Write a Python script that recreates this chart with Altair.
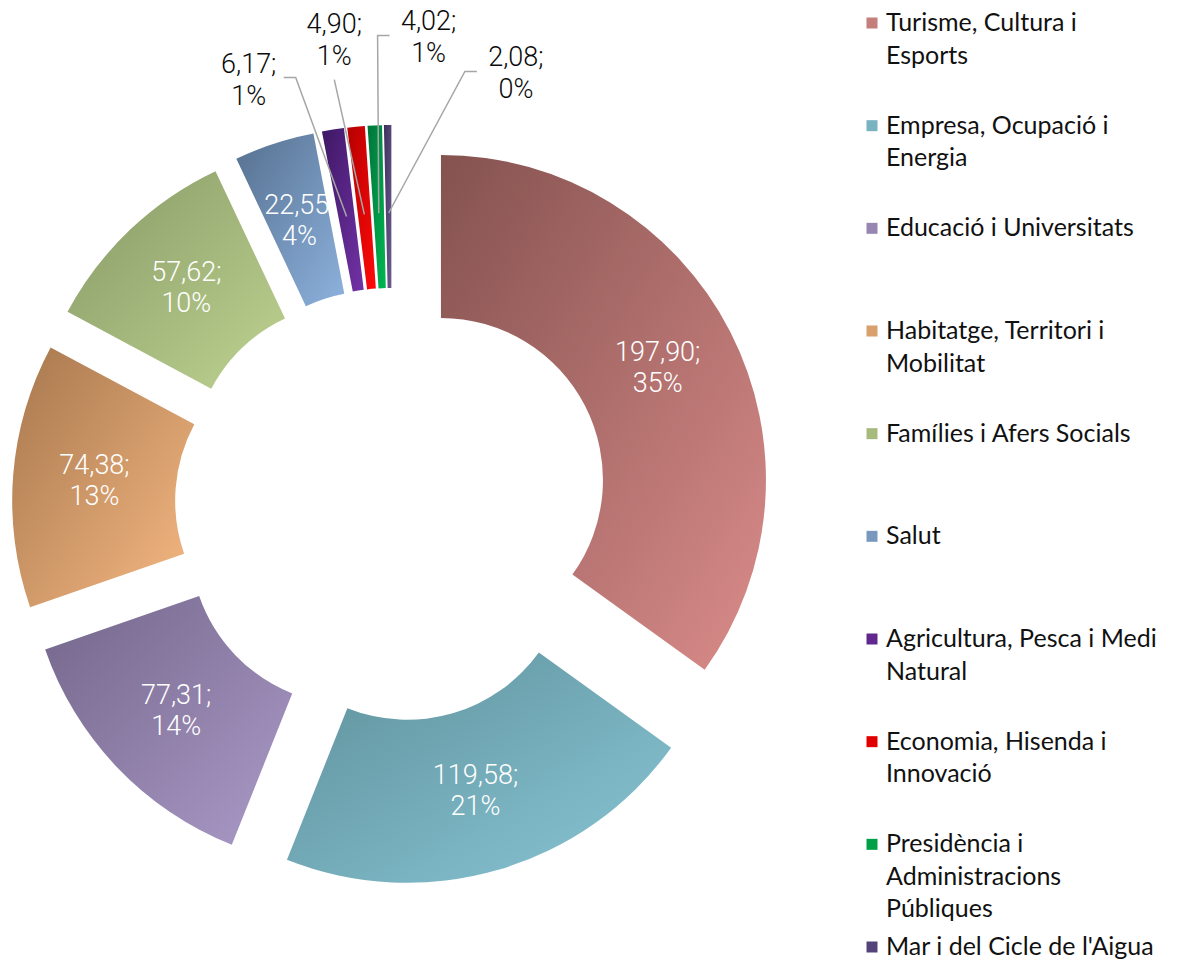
import altair as alt
import pandas as pd
import numpy as np

# ---------------- data ----------------
categories = [
    "Turisme, Cultura i Esports",
    "Empresa, Ocupació i Energia",
    "Educació i Universitats",
    "Habitatge, Territori i Mobilitat",
    "Famílies i Afers Socials",
    "Salut",
    "Agricultura, Pesca i Medi Natural",
    "Economia, Hisenda i Innovació",
    "Presidència i Administracions Públiques",
    "Mar i del Cicle de l'Aigua",
]
values = [197.90, 119.58, 77.31, 74.38, 57.62, 22.55, 6.17, 4.90, 4.02, 2.08]
legend_labels = [
    "Turisme, Cultura i\nEsports",
    "Empresa, Ocupació i\nEnergia",
    "Educació i Universitats",
    "Habitatge, Territori i\nMobilitat",
    "Famílies i Afers Socials",
    "Salut",
    "Agricultura, Pesca i Medi\nNatural",
    "Economia, Hisenda i\nInnovació",
    "Presidència i\nAdministracions\nPúbliques",
    "Mar i del Cicle de l'Aigua",
]

# ---------------- styles ----------------
dark_colors = ["#84524F", "#5E909A", "#73668A", "#A6774D", "#879966",
               "#56708F", "#3E1865", "#B50000", "#00733A", "#3E2F5E"]
light_colors = ["#DA8C8A", "#89C6D6", "#AB9AC8", "#F7B983", "#BED391",
                "#8DB2DE", "#7232A6", "#FF0A0A", "#00B852", "#6B5C8E"]
legend_colors = ["#C47E7C", "#79B2C0", "#9787B0", "#D9A06D", "#A7BA7E",
                 "#7A98BE", "#60288E", "#E00000", "#00A048", "#54437A"]

W, H = 1186, 965
CX, CY = 392, 505          # donut centre (px)
EXPLODE = 55               # explosion distance of each slice (px)
R_OUT, R_IN = 325, 162
R_MIDLABEL = (R_OUT + R_IN) / 2
R_LEADER = 237
FONT_LBL = "Roboto"
FONT_LEG = "Lato"

# ---------------- geometry derived from the values ----------------
vals = np.array(values)
total = vals.sum()
end = np.cumsum(vals)
start = end - vals
mid = np.pi * (start + end) / total          # mid angle in radians
cx = CX + EXPLODE * np.sin(mid)
cy = CY - EXPLODE * np.cos(mid)
pct = np.round(vals / total * 100).astype(int)
labels = [f"{v:.2f}".replace(".", ",") + ";\n" + f"{p}%" for v, p in zip(values, pct)]
inside = (vals / total) >= 0.03

# inside label position (centre of the two-line block)
lx = cx + R_MIDLABEL * np.sin(mid)
ly = cy - R_MIDLABEL * np.cos(mid)

# outside labels fanned out above the small slices
small_idx = np.where(~inside)[0]
n_small = len(small_idx)
fan_centre, fan_step = 358.7, 11.57
leader_rows = []
for k, i in enumerate(small_idx):
    off = k - (n_small - 1) / 2
    ang = np.deg2rad(fan_centre + off * fan_step)
    rl = 478 - 20 * abs(off)
    lx[i] = CX + rl * np.sin(ang)
    ly[i] = CY - rl * np.cos(ang)
    # leader line: label side -> elbow -> slice
    ex = cx[i] + R_LEADER * np.sin(mid[i])
    ey = cy[i] - R_LEADER * np.cos(mid[i])
    dx = lx[i] - ex
    if dx < -40:
        p0 = (lx[i] + 35, ly[i] - 3); p1 = (lx[i] + 47, ly[i] - 3)
    elif dx > 40:
        p0 = (lx[i] - 39, ly[i] - 3); p1 = (lx[i] - 51, ly[i] - 3)
    else:
        p0 = (lx[i], ly[i] + 39); p1 = p0
    for pt, (px, py) in enumerate([p0, p1, (ex, ey)]):
        leader_rows.append({"cat": categories[i], "pt": pt, "px": px, "py": py})

slices = pd.DataFrame({
    "cat": categories, "value": values, "start": start, "end": end,
    "cx": cx, "cy": cy, "lx": lx, "ly": ly, "label": labels, "inside": inside,
    "legend": legend_labels,
})
leaders = pd.DataFrame(leader_rows)

xs = alt.Scale(domain=[0, W], range=[0, W])
ys = alt.Scale(domain=[0, H], range=[0, H])
X = lambda f: alt.X(f, type="quantitative", scale=xs, axis=None)
Y = lambda f: alt.Y(f, type="quantitative", scale=ys, axis=None)
theta_scale = alt.Scale(domain=[0, float(total)], range=[0, 2 * np.pi])

layers = []
for i, cat in enumerate(categories):
    grad = alt.LinearGradient(
        gradient="linear", x1=0, y1=0, x2=1, y2=1,
        stops=[alt.GradientStop(color=dark_colors[i], offset=0),
               alt.GradientStop(color=light_colors[i], offset=1)],
    )
    layers.append(
        alt.Chart(slices).transform_filter(alt.datum.cat == cat)
        .mark_arc(radius=R_OUT, radius2=R_IN, color=grad)
        .encode(
            x=X("cx"), y=Y("cy"),
            theta=alt.Theta("start:Q", scale=theta_scale, stack=None),
            theta2="end:Q",
        )
    )

inside_text = alt.Chart(slices).transform_filter(alt.datum.inside == True).mark_text(
    font=FONT_LBL, fontSize=27, fontWeight=300, color="white", lineBreak="\n",
    lineHeight=31, align="center", baseline="middle", dy=-15.5,
).encode(x=X("lx"), y=Y("ly"), text="label:N")

outside_text = alt.Chart(slices).transform_filter(alt.datum.inside == False).mark_text(
    font=FONT_LBL, fontSize=27, fontWeight=300, color="#0a0a0a", lineBreak="\n",
    lineHeight=32, align="center", baseline="middle", dy=-16,
).encode(x=X("lx"), y=Y("ly"), text="label:N")

leader_lines = alt.Chart(leaders).mark_line(color="#A6A6A6", strokeWidth=1.5).encode(
    x=X("px"), y=Y("py"), detail="cat:N", order="pt:Q"
)

leg_y = alt.Y("cat:N", sort=categories, axis=None,
              scale=alt.Scale(type="point", range=[23, 947], padding=0))
legend_sq = alt.Chart(slices).mark_square(size=121, opacity=1).encode(
    x=alt.value(872), y=leg_y,
    color=alt.Color("cat:N", scale=alt.Scale(domain=categories, range=legend_colors), legend=None),
)
legend_txt = alt.Chart(slices).mark_text(
    font=FONT_LEG, fontSize=25, color="#111111", lineBreak="\n", lineHeight=32.5,
    align="left", baseline="line-top", dy=-16,
).encode(x=alt.value(886), y=leg_y, text="legend:N")

chart = alt.layer(
    *layers, inside_text, leader_lines, outside_text,
    alt.layer(legend_sq, legend_txt),
).resolve_scale(y="independent").properties(
    width=W, height=H, padding=0, autosize="none", background="white",
).configure_view(stroke=None)

chart.save("out.html", embed_options={"renderer": "svg", "actions": False})
